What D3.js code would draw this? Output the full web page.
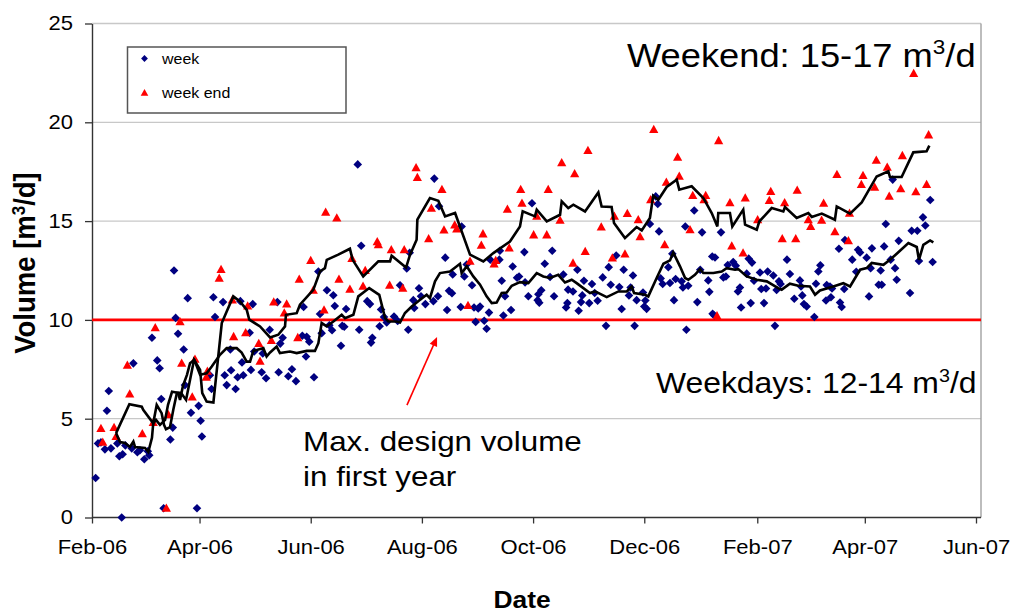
<!DOCTYPE html>
<html>
<head>
<meta charset="utf-8">
<script src="https://cdn.jsdelivr.net/npm/d3@7"></script>
<style>
  body { margin: 0; background: #fff; }
  svg { display: block; }
  text { font-family: "Liberation Sans", Arial, sans-serif; fill: #000; }
</style>
</head>
<body>
<svg id="chart" width="1011" height="613"></svg>
<script>
// Daily wastewater volume [m3/d]; x = days after 1 Feb 2006
const startDate = new Date(2006, 1, 1);

const weekdayPoints = [[2.0,2.0],[3.3,3.75],[4.9,3.8],[7.1,3.45],[8.2,5.4],[9.2,6.4],[10.4,3.5],[13.9,3.75],[15.0,3.1],[16.3,0],[16.8,3.2],[18.3,3.65],[21.8,3.5],[22.7,7.8],[24.9,3.3],[26.3,3.4],[28.7,2.95],[30.6,3.35],[31.4,3.15],[32.9,9.1],[35.8,7.95],[37.1,7.55],[38.0,6.0],[39.3,0.47],[43.0,3.95],[44.3,4.55],[45.0,12.5],[45.9,10.1],[47.2,9.3],[50.3,8.5],[51.0,6.7],[52.5,11.1],[54.3,5.3],[57.6,0.47],[58.5,5.65],[59.6,4.9],[60.3,4.1],[64.7,7.2],[65.6,6.5],[66.6,11.15],[67.5,10.15],[71.9,10.9],[72.8,7.2],[73.9,6.7],[75.9,8.5],[76.3,7.45],[78.8,6.5],[79.9,7.1],[81.4,10.95],[82.3,7.85],[83.0,7.2],[86.5,9.35],[87.2,7.47],[88.2,10.8],[89.0,8.4],[93.1,7.35],[93.7,8.3],[95.5,7.05],[97.5,9.5],[101.7,10.9],[102.4,7.35],[103.3,8.8],[104.6,9.1],[107.7,7.15],[109.7,7.5],[111.9,6.9],[115.4,9.2],[116.1,10.65],[117.4,8.15],[117.8,9.15],[119.2,8.9],[121.8,7.1],[124.2,12.45],[125.1,10.3],[126.0,9.33],[128.9,11.5],[130.2,9.73],[131.7,9.48],[132.4,11.25],[133.2,10.7],[136.6,8.69],[137.3,9.7],[138.4,9.65],[139.4,10.55],[145.8,17.87],[146.6,9.5],[147.7,13.75],[151.0,10.95],[152.5,10.8],[153.1,8.85],[153.8,9.1],[157.8,9.68],[158.6,10.53],[160.2,10.15],[161.7,9.87],[165.7,10.17],[167.7,9.95],[169.0,11.75],[172.7,12.6],[173.5,9.5],[174.3,13.4],[176.3,11.0],[176.8,10.6],[179.4,11.6],[180.5,11.2],[182.9,10.8],[187.3,10.95],[187.8,17.15],[189.8,11.2],[190.4,15.75],[193.8,13.15],[194.8,10.5],[195.9,11.47],[197.5,11.35],[197.9,12.3],[202.3,10.65],[202.8,14.73],[204.3,12.2],[205.6,12.8],[208.5,11.75],[209.6,10.63],[210.5,9.9],[211.9,10.58],[212.9,10.68],[215.2,9.96],[216.5,9.55],[217.8,10.37],[218.5,13.05],[223.5,13.05],[223.8,13.5],[224.8,11.98],[225.7,10.22],[226.6,11.2],[229.9,10.5],[230.8,12.7],[233.2,12.13],[234.3,12.2],[237.2,13.43],[237.6,11.9],[239.4,11.2],[241.4,15.9],[244.5,11.0],[244.9,11.3],[245.4,10.87],[246.5,11.5],[248.4,12.84],[251.3,12.17],[252.5,13.5],[253.5,11.2],[258.6,12.3],[260.1,10.63],[260.8,10.85],[261.2,11.53],[263.9,11.44],[266.3,12.54],[267.0,10.46],[268.3,10.9],[269.0,11.24],[269.9,11.98],[272.8,10.85],[274.3,11.82],[275.8,11.36],[277.4,10.97],[280.2,12.15],[282.0,9.7],[283.5,12.67],[284.6,11.78],[287.6,13.26],[289.3,11.66],[290.6,10.55],[291.7,12.54],[294.6,11.24],[295.5,11.64],[296.8,12.25],[297.7,9.7],[298.8,11.0],[302.3,11.39],[303.0,10.68],[303.6,10.98],[304.3,10.56],[306.1,14.85],[309.3,16.25],[310.4,15.87],[311.1,14.48],[312.0,12.1],[313.1,11.82],[316.2,12.67],[317.1,11.87],[318.4,13.35],[319.3,11.0],[320.2,12.07],[323.5,11.95],[324.2,11.64],[325.5,14.73],[326.1,9.5],[327.1,11.73],[330.4,15.54],[332.1,10.9],[333.7,12.54],[334.7,14.43],[338.1,12.0],[338.7,11.42],[340.3,13.21],[340.5,10.31],[341.4,10.22],[341.8,13.16],[345.1,14.43],[346.4,12.15],[347.8,12.2],[348.8,12.78],[351.8,12.93],[353.2,12.74],[354.4,11.44],[355.5,11.64],[356.1,10.63],[359.2,12.34],[360.3,13.1],[361.4,10.85],[362.1,12.9],[363.2,11.98],[366.5,12.4],[367.2,11.56],[368.7,10.85],[369.8,11.59],[370.7,12.45],[373.8,12.25],[374.7,9.7],[375.6,11.51],[376.9,11.95],[377.8,11.82],[381.3,13.05],[382.9,12.32],[385.3,11.07],[388.4,12.0],[389.0,11.69],[389.7,11.24],[390.6,10.8],[392.1,10.68],[396.3,10.15],[397.2,11.83],[398.5,12.45],[399.6,12.76],[402.7,10.98],[403.1,11.76],[404.9,11.69],[405.4,11.15],[406.0,11.59],[409.8,13.6],[410.4,10.88],[411.3,10.65],[412.7,11.56],[413.1,14.04],[417.1,13.05],[419.3,12.44],[420.3,13.55],[421.4,13.41],[425.0,13.15],[426.3,11.19],[427.2,12.62],[427.9,13.62],[431.6,11.78],[432.7,12.5],[433.3,11.78],[434.6,13.72],[435.5,14.85],[438.2,13.05],[439.3,17.1],[440.6,12.62],[441.5,12.03],[442.6,14.0],[448.8,11.36],[449.7,14.51],[452.8,14.51],[453.7,12.98],[455.9,15.19],[457.2,14.78],[459.9,16.07],[461.2,12.93]];

const weekendPoints = [[4.9,4.5],[5.9,3.8],[12.1,4.55],[13.2,4.1],[19.4,7.7],[20.7,6.25],[27.6,4.23],[33.6,4.8],[34.7,9.6],[40.8,0.47],[41.9,5.2],[48.3,9.9],[49.2,7.8],[55.0,6.1],[56.5,8.0],[62.7,7.1],[63.3,7.4],[69.8,12.1],[70.8,12.55],[77.0,11.0],[77.7,9.15],[84.3,9.35],[85.4,10.7],[91.5,8.8],[92.2,7.9],[98.4,8.95],[99.7,10.9],[105.5,10.35],[106.8,10.8],[112.9,9.1],[113.7,12.05],[120.0,13.0],[121.4,11.5],[127.3,10.5],[128.2,15.45],[134.3,15.15],[135.5,12.05],[141.5,11.55],[142.6,13.1],[148.7,11.7],[149.9,12.5],[156.5,13.95],[157.1,13.8],[163.3,11.75],[164.2,13.55],[170.5,11.6],[171.3,13.55],[177.8,17.7],[178.5,17.2],[184.7,14.1],[186.2,15.65],[192.0,16.6],[193.1,14.55],[199.0,14.8],[200.1,14.6],[206.3,10.73],[207.4,12.96],[213.6,13.77],[214.5,14.35],[220.6,12.83],[221.5,13.0],[227.9,15.6],[228.9,13.64],[235.2,16.6],[235.9,15.9],[242.3,14.3],[244.0,15.24],[249.5,14.3],[250.3,16.6],[256.8,15.04],[257.7,17.95],[263.9,12.87],[264.8,17.39],[270.6,13.46],[272.1,18.57],[279.4,14.7],[285.5,13.13],[286.6,15.24],[292.4,13.33],[293.7,15.38],[299.7,15.07],[300.7,14.2],[306.5,16.08],[308.2,19.63],[314.2,13.8],[315.1,16.96],[321.3,18.23],[322.2,17.27],[328.1,14.56],[329.6,16.29],[335.8,16.08],[336.7,16.29],[342.9,10.2],[343.8,19.07],[350.0,15.92],[351.0,13.74],[357.2,13.38],[358.4,16.17],[365.2,15.07],[371.6,16.04],[372.4,16.5],[378.7,14.1],[380.0,15.92],[386.1,14.1],[386.9,16.56],[393.0,15.07],[394.3,14.72],[400.3,15.04],[401.4,15.9],[407.6,14.46],[408.7,17.35],[415.0,14.0],[415.6,15.39],[422.1,16.85],[423.0,17.3],[429.4,16.71],[430.3,18.08],[436.3,17.72],[437.4,16.25],[443.7,16.63],[444.6,18.31],[450.8,22.47],[452.0,16.48],[457.9,16.85],[459.0,19.36]];

// Moving averages of each series
const weekendAverage = [[13.2,4.27],[20.5,5.73],[27.3,5.61],[28.1,5.45],[33.6,4.77],[35.5,5.70],[38.2,5.28],[39.5,4.69],[40.6,4.47],[42.8,4.57],[44.6,5.45],[46.6,6.31],[48.8,6.31],[51.6,5.95],[53.8,6.97],[56.0,7.98],[59.3,7.47],[60.5,6.29],[62.9,5.87],[66.6,5.82],[71.2,9.84],[73.9,10.43],[77.5,11.19],[81.2,10.93],[84.9,10.51],[86.3,10.01],[92.2,9.67],[97.7,9.11],[102.2,9.25],[105.9,9.67],[106.4,10.26],[112.3,10.34],[114.1,10.77],[121.4,11.52],[125.1,12.45],[127.8,12.62],[128.8,13.04],[135.1,13.30],[141.5,13.60],[143.0,13.04],[148.8,12.20],[157.1,12.96],[163.5,12.96],[164.4,13.25],[172.3,12.65],[174.5,13.30],[178.1,14.06],[178.5,15.07],[185.4,16.17],[190.0,16.03],[193.7,15.24],[199.2,15.41],[207.4,13.30],[214.7,12.96],[220.2,13.38],[229.3,13.97],[234.8,14.73],[236.3,15.49],[243.0,15.24],[244.0,15.58],[249.5,14.99],[256.8,15.32],[257.7,16.00],[261.3,15.66],[264.1,15.83],[270.5,15.49],[277.8,16.45],[279.6,15.74],[285.1,15.71],[286.4,14.90],[292.4,14.14],[298.8,14.70],[301.6,14.53],[306.1,15.16],[307.9,16.29],[310.7,16.08],[315.3,16.73],[320.8,17.10],[322.2,16.59],[329.0,16.76],[335.4,16.17],[340.0,15.41],[343.1,14.73],[343.6,15.41],[350.0,15.41],[351.3,14.73],[357.3,15.58],[358.3,14.82],[364.7,14.56],[366.1,14.98],[372.9,15.66],[379.3,15.49],[380.2,15.71],[386.6,15.16],[393.0,15.41],[394.9,15.21],[400.4,15.38],[407.6,15.07],[408.6,15.74],[415.9,15.38],[422.3,15.95],[430.5,17.26],[436.9,17.52],[437.8,17.23],[444.2,17.23],[450.6,18.48],[457.9,18.53],[459.4,18.82]];

const weekdayAverage = [[13.2,4.27],[15.4,3.82],[18.1,3.77],[20.8,3.57],[22.7,3.84],[23.6,3.57],[29.1,3.52],[30.9,3.32],[32.9,4.03],[33.6,4.77],[35.1,4.94],[37.3,4.69],[40.1,4.94],[41.7,5.70],[43.9,6.36],[47.2,6.31],[48.3,5.95],[49.9,6.66],[52.1,7.22],[53.8,7.81],[56.1,7.98],[59.3,7.22],[62.9,7.30],[65.7,7.64],[70.2,8.23],[73.9,8.57],[79.4,8.57],[82.1,8.35],[84.9,7.89],[86.7,7.89],[88.5,8.43],[94.0,8.57],[95.8,8.15],[97.7,8.35],[101.3,8.65],[103.1,8.32],[108.6,8.40],[112.3,8.32],[117.8,8.43],[122.3,8.43],[124.2,8.82],[126.0,9.84],[128.8,9.67],[132.4,9.92],[137.0,10.26],[138.8,10.09],[143.4,10.26],[146.1,11.19],[152.1,11.61],[157.6,11.27],[160.8,10.09],[162.6,9.92],[167.2,9.92],[169.0,9.87],[171.7,10.35],[175.4,10.68],[180.0,11.02],[183.6,11.27],[185.4,11.10],[188.2,11.95],[190.9,12.37],[196.4,12.45],[201.9,12.84],[202.8,12.37],[205.6,12.71],[209.2,12.20],[212.9,11.78],[216.5,11.19],[219.3,10.85],[222.0,10.88],[224.8,11.36],[227.5,11.39],[230.3,11.73],[234.8,11.91],[239.4,11.86],[244.0,12.37],[247.6,12.20],[251.3,12.12],[255.8,12.28],[259.5,11.89],[263.2,12.03],[265.9,11.86],[273.2,11.36],[276.0,11.44],[282.4,11.15],[288.8,11.44],[293.4,11.44],[296.1,11.69],[297.4,11.36],[303.4,11.27],[305.2,11.19],[309.8,12.12],[313.5,12.84],[317.1,13.01],[318.9,13.41],[322.6,12.71],[325.4,12.12],[327.2,12.03],[330.8,12.28],[333.6,12.57],[335.4,12.37],[340.9,12.37],[345.5,12.45],[348.2,12.62],[352.8,12.54],[354.6,12.57],[359.2,12.20],[364.7,12.03],[370.2,11.95],[376.5,11.61],[378.4,11.53],[382.9,11.83],[387.5,11.73],[393.9,11.69],[396.7,11.27],[399.4,11.49],[406.7,11.69],[412.2,11.86],[415.9,11.69],[421.4,12.54],[425.0,12.62],[427.8,12.88],[434.2,12.79],[437.8,13.04],[441.5,13.35],[447.9,13.89],[452.5,13.69],[453.7,13.04],[456.1,13.80],[459.8,14.02],[461.6,13.92]];

const designLimit = 10;            // max. design volume in first year
const yTicks = [0, 5, 10, 15, 20, 25];
const gridValues = [5, 15, 20, 25];
const xTickDates = ["2006-02-01","2006-04-01","2006-06-01","2006-08-01","2006-10-01","2006-12-01","2007-02-01","2007-04-01","2007-06-01"];

const toDate = d => new Date(startDate.getTime() + d * 864e5);

const svg = d3.select("#chart");
const plotLeft = 92, plotRight = 976, plotTop = 23.5, plotBottom = 517.5, frameRight = 981;

const x = d3.scaleTime()
  .domain([new Date(2006, 1, 1), new Date(2007, 5, 1)])
  .range([plotLeft, plotRight]);
const y = d3.scaleLinear().domain([0, 25]).range([plotBottom, plotTop]);

const SX = 1.1; // text is drawn slightly wide
function stretched(sel, px, py, sx = SX) {
  return sel.attr("transform", `translate(${px},${py}) scale(${sx},1)`);
}

// Gridlines and frame
svg.append("g").selectAll("line").data(gridValues).join("line")
  .attr("x1", plotLeft).attr("x2", frameRight)
  .attr("y1", d => y(d)).attr("y2", d => y(d))
  .attr("stroke", "#c8c8c8").attr("stroke-width", 1.3);
svg.append("line")
  .attr("x1", frameRight).attr("x2", frameRight).attr("y1", y(25)).attr("y2", y(0))
  .attr("stroke", "#9a9a9a").attr("stroke-width", 1.3);

// Axes
const fmt = d3.timeFormat("%b-%y");
const xAxis = svg.append("g").attr("transform", `translate(0,${plotBottom})`)
  .call(d3.axisBottom(x).tickValues(xTickDates.map(s => new Date(s + "T00:00:00")))
    .tickFormat(fmt).tickSize(6).tickSizeOuter(0).tickPadding(16));
xAxis.select(".domain").attr("d", `M${plotLeft},0H${frameRight}`);
const yAxis = svg.append("g").attr("transform", `translate(${plotLeft},0)`)
  .call(d3.axisLeft(y).tickValues(yTicks).tickSize(7).tickSizeOuter(0).tickPadding(12));
[xAxis, yAxis].forEach(g => {
  g.select(".domain").attr("stroke", "#333").attr("stroke-width", 1.4);
  g.selectAll(".tick line").attr("stroke", "#333").attr("stroke-width", 1.3);
  g.selectAll(".tick text").attr("font-size", 20).attr("fill", "#000")
    .style("font-family", "'Liberation Sans', Arial, sans-serif");
});
xAxis.selectAll(".tick text").attr("transform", `scale(${SX},1)`).attr("x", 0);
yAxis.selectAll(".tick text").attr("transform", `scale(${SX},1)`).attr("x", -19 / SX);

// Design limit
svg.append("line")
  .attr("x1", plotLeft).attr("x2", frameRight)
  .attr("y1", y(designLimit)).attr("y2", y(designLimit))
  .attr("stroke", "#ff0000").attr("stroke-width", 2.6);

// Markers
const diamond = r => `M0,${-r}L${r},0L0,${r}L${-r},0Z`;
const triangle = s => `M0,${-s * 1.05}L${s},${s * 0.75}L${-s},${s * 0.75}Z`;

svg.append("g").selectAll("path").data(weekdayPoints).join("path")
  .attr("d", diamond(4.3))
  .attr("transform", d => `translate(${x(toDate(d[0]))},${y(d[1])})`)
  .attr("fill", "#000080");
svg.append("g").selectAll("path").data(weekendPoints).join("path")
  .attr("d", triangle(4.6))
  .attr("transform", d => `translate(${x(toDate(d[0]))},${y(d[1])})`)
  .attr("fill", "#ff0000");

// Moving-average lines
const line = d3.line().x(d => x(toDate(d[0]))).y(d => y(d[1]));
[weekendAverage, weekdayAverage].forEach(series => {
  svg.append("path").datum(series).attr("d", line)
    .attr("fill", "none").attr("stroke", "#000").attr("stroke-width", 2.6)
    .attr("stroke-linejoin", "miter");
});

// Legend
const lg = svg.append("g");
lg.append("rect").attr("x", 127.5).attr("y", 47).attr("width", 218.5).attr("height", 66)
  .attr("fill", "#fff").attr("stroke", "#555").attr("stroke-width", 1.5);
lg.append("path").attr("d", diamond(3.4)).attr("transform", "translate(144.5,58.5)").attr("fill", "#000080");
lg.append("path").attr("d", triangle(3.8)).attr("transform", "translate(144.5,93)").attr("fill", "#ff0000");
stretched(lg.append("text").attr("font-size", 14.5).text("week"), 162, 63.5);
stretched(lg.append("text").attr("font-size", 14.5).text("week end"), 162, 98);

// Axis titles
stretched(svg.append("text").attr("font-size", 24).attr("font-weight", "bold")
  .attr("text-anchor", "middle").text("Date"), 522, 608);
const yt = svg.append("text").attr("font-size", 27.5).attr("font-weight", "bold")
  .attr("text-anchor", "middle")
  .attr("transform", `translate(35,263) rotate(-90) scale(1,1.05)`);
yt.append("tspan").text("Volume [m");
yt.append("tspan").attr("font-size", 17).attr("dy", -10).text("3");
yt.append("tspan").attr("dy", 10).text("/d]");

// Annotations
function rateLabel(label, px, py, size) {
  const t = stretched(svg.append("text").attr("font-size", size), px, py);
  t.append("tspan").text(label + " m");
  t.append("tspan").attr("font-size", size * 0.62).attr("dy", -size * 0.38).text("3");
  t.append("tspan").attr("dy", size * 0.38).text("/d");
}
rateLabel("Weekend: 15-17", x(toDate(293.5)), y(22.8), 33);
rateLabel("Weekdays: 12-14", x(toDate(309.4)), y(6.3), 29);

stretched(svg.append("text").attr("font-size", 28.5).text("Max. design volume"), x(toDate(115.8)), y(3.35));
stretched(svg.append("text").attr("font-size", 28.5).text("in first year"), x(toDate(115.8)), y(1.58));

// Arrow pointing at the design limit
const tail = [x(toDate(172.8)), y(5.69)];
const head = [x(toDate(189.3)), y(9.13)];
const ang = Math.atan2(head[1] - tail[1], head[0] - tail[0]);
const headLen = 9, headW = 4;
svg.append("line")
  .attr("x1", tail[0]).attr("y1", tail[1])
  .attr("x2", head[0] - Math.cos(ang) * headLen * 0.8).attr("y2", head[1] - Math.sin(ang) * headLen * 0.8)
  .attr("stroke", "#ff0000").attr("stroke-width", 1.6);
svg.append("path")
  .attr("d", `M${headLen},0L0,${-headW}L0,${headW}Z`)
  .attr("transform", `translate(${head[0] - Math.cos(ang) * headLen},${head[1] - Math.sin(ang) * headLen}) rotate(${ang * 180 / Math.PI})`)
  .attr("fill", "#ff0000");
</script>
</body>
</html>
